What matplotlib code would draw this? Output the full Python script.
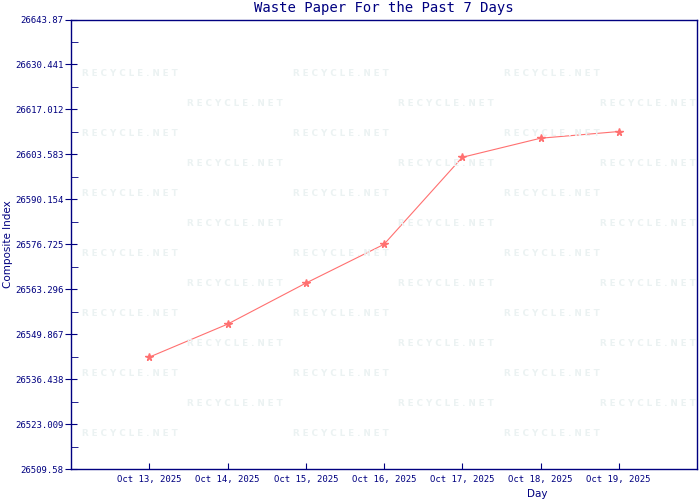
import matplotlib
matplotlib.use("Agg")
import matplotlib.pyplot as plt
from matplotlib.ticker import FixedLocator

days = ["Oct 13, 2025", "Oct 14, 2025", "Oct 15, 2025", "Oct 16, 2025",
        "Oct 17, 2025", "Oct 18, 2025", "Oct 19, 2025"]
values = [26543.0, 26552.85, 26565.1, 26576.7, 26602.7, 26608.4, 26610.4]
ytick_labels = ["26509.58", "26523.009", "26536.438", "26549.867", "26563.296",
                "26576.725", "26590.154", "26603.583", "26617.012", "26630.441", "26643.87"]
ymin, ymax = 26509.58, 26643.87

navy = "#000080"
fig = plt.figure(figsize=(7, 5), dpi=100)
ax = fig.add_axes([71/700, 1-469/500, (697-71)/700, (469-19.5)/500])

# watermark
for r in range(13):
    yp = 73 + 30*r
    off = 130 if r % 2 == 0 else 235
    for k in range(0, 3):
        xp = min(off + 211*k, 648)
        fig.text(xp/700, 1-yp/500, "R E C Y C L E . N E T", fontsize=6.3, color="#ebf2f2",
                 ha="center", va="center", family="DejaVu Sans", fontweight="bold", zorder=0)

x = list(range(len(days)))
ax.plot(x, values, color="#ff7070", lw=0.8, marker="*", markersize=5.5,
        markerfacecolor="#ff7070", markeredgecolor="#ff7070", zorder=3)
ax.set_xlim(-1, 7)
ax.set_ylim(ymin, ymax)
ax.patch.set_alpha(0)

yt = [ymin + i*(ymax-ymin)/10 for i in range(11)]
ax.set_yticks(yt)
ax.set_yticklabels(ytick_labels)
ax.yaxis.set_minor_locator(FixedLocator([ymin + (i+0.5)*(ymax-ymin)/10 for i in range(10)]))
ax.set_xticks(x)
ax.set_xticklabels(days)

for s in ax.spines.values():
    s.set_color(navy)
    s.set_linewidth(1)
ax.tick_params(axis="y", which="major", direction="inout", length=9, color=navy,
               labelcolor=navy, labelsize=6.5, pad=1)
ax.tick_params(axis="y", which="minor", direction="in", length=5, color=navy)
ax.tick_params(axis="x", which="major", direction="in", length=4, color=navy,
               labelcolor=navy, labelsize=6.5, pad=4)
for lab in ax.get_xticklabels() + ax.get_yticklabels():
    lab.set_family("DejaVu Sans Mono")

fig.text(384/700, 1-8/500, "Waste Paper For the Past 7 Days", ha="center", va="center",
         fontsize=10, color=navy, family="DejaVu Sans Mono")
fig.text(8/700, 1-244/500, "Composite Index", rotation=90, ha="center", va="center",
         fontsize=7.5, color=navy, family="DejaVu Sans")
fig.text(537/700, 1-494/500, "Day", ha="center", va="center",
         fontsize=7.5, color=navy, family="DejaVu Sans")

fig.savefig("out.png", dpi=100)
